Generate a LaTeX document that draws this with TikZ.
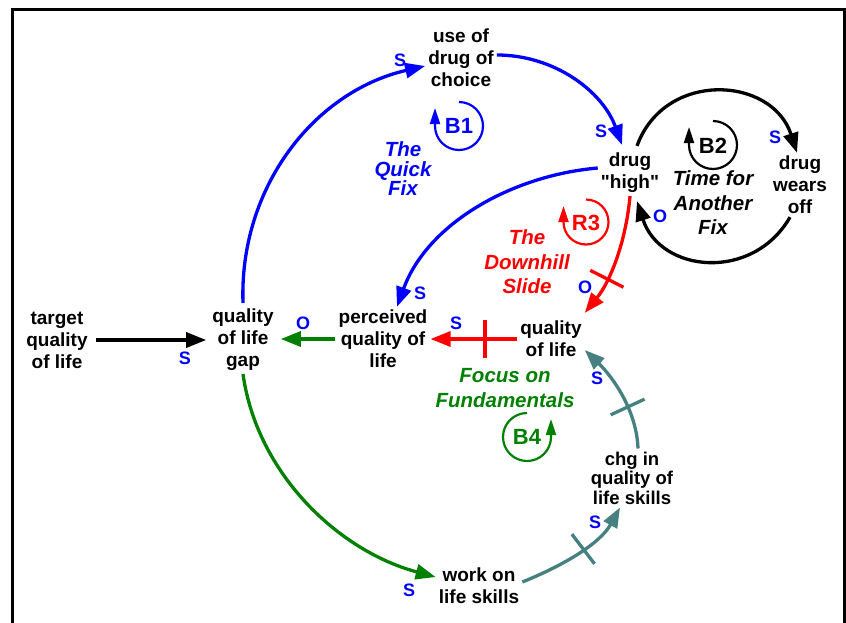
\documentclass[tikz,border=0pt]{standalone}
\usepackage{fontspec}
\setmainfont{Liberation Sans}[Ligatures=TeXOff]
\usetikzlibrary{arrows.meta}
\definecolor{cldblue}{RGB}{0,0,255}
\definecolor{cldred}{RGB}{255,0,0}
\definecolor{cldgreen}{RGB}{0,128,0}
\definecolor{cldteal}{RGB}{70,128,128}
\begin{document}
\begin{tikzpicture}[x=1pt,y=1pt,
  var/.style={font=\bfseries\fontsize{19}{22}\selectfont, align=center, inner sep=3pt, text=black},
  pol/.style={font=\bfseries\fontsize{18}{18}\selectfont, text=cldblue, inner sep=0pt},
  lnk/.style={line width=3.3pt, -{Triangle[length=20pt,width=15pt]}},
  looplbl/.style={font=\bfseries\fontsize{22}{22}\selectfont, inner sep=0pt},
  loopname/.style={font=\bfseries\itshape\fontsize{20.5}{24.5}\selectfont, align=center, inner sep=0pt},
  looparc/.style={line width=2.2pt, -{Triangle[length=16pt,width=10pt]}},
  hashmark/.style={sloped, inner sep=0pt, minimum height=34pt, minimum width=0pt},
  hashline/.style={line width=3.3pt}
]
\useasboundingbox (0,0) rectangle (846,-622);
% frame
\draw[line width=3pt] (12.5,-625) -- (12.5,-9.5) -- (844,-9.5) -- (844,-625);

% variables
\node[var] (use) at (461,-58) {use of\\drug of\\choice};
\node[var] (high) at (630,-173) {drug\\"high"};
\node[var] (wears) at (800,-185) {drug\\wears\\off};
\node[var] (target) at (57,-340) {target\\quality\\of life};
\node[var] (gap) at (243,-340) {quality\\of life\\gap};
\node[var] (perc) at (383,-339) {perceived\\quality of\\life};
\node[var] (qol) at (551,-339) {quality\\of life};
\node[var, font=\bfseries\fontsize{18.5}{19.5}\selectfont] (chg) at (632,-478) {chg in\\quality of\\life skills};
\node[var] (work) at (479,-586) {work on\\life skills};

% loop labels
\node[looplbl, text=cldblue] (b1) at (459,-126) {B1};
\draw[looparc, cldblue] (459,-102) arc[start angle=90, end angle=-180, radius=24] -- ++(0,18);
\node[looplbl] (b2) at (713,-146) {B2};
\draw[looparc] (713,-121) arc[start angle=90, end angle=-180, radius=24] -- ++(0,18);
\node[looplbl, text=cldred] (r3) at (586,-223) {R3};
\draw[looparc, cldred] (586,-199.5) arc[start angle=90, end angle=-180, radius=22.5] -- ++(0,16);
\node[looplbl, text=cldgreen] (b4) at (527,-437) {B4};
\draw[looparc, cldgreen] (527,-413) arc[start angle=90, end angle=360, radius=24] -- ++(0,18);

% loop names
\node[loopname, text=cldblue, font=\bfseries\itshape\fontsize{20.5}{19.5}\selectfont] (qf) at (403,-169) {The\\Quick\\Fix};
\node[loopname] (taf) at (713,-203) {Time for\\Another\\Fix};
\node[loopname, text=cldred] (dhs) at (527,-262) {The\\Downhill\\Slide};
\node[loopname, text=cldgreen] (fof) at (505,-388) {Focus on\\Fundamentals};

% links
\draw[lnk, cldblue] ([yshift=3pt]gap.north) to[out=92, in=193, looseness=0.98] ([yshift=-8pt]use.west);
\draw[lnk, cldblue] ([yshift=3pt]use.east) to[out=0, in=110, looseness=0.95] ([xshift=-8pt,yshift=5pt]high.north);
\draw[lnk, cldblue] ([yshift=5pt]high.west) to[out=185, in=70, looseness=0.92] ([xshift=14pt]perc.north);
\draw[lnk] ([xshift=7pt,yshift=4pt]high.north) to[out=70, in=108, looseness=1.29] ([xshift=-3pt]wears.north);
\draw[lnk] ([xshift=-10pt]wears.south) to[out=-120, in=-72, looseness=1.25] ([xshift=7pt,yshift=-5pt]high.south);
\draw[lnk, cldred] (high.south) to[out=265, in=51, looseness=0.87] node[hashmark, pos=0.68] (h1) {} ([yshift=5pt]qol.north east);
\draw[hashline, cldred] (h1.north) -- (h1.south);
\draw[lnk, cldred] (qol.west) -- node[hashmark, pos=0.37] (h2) {} (qol.west -| perc.east);
\draw[hashline, cldred] (h2.north) -- (h2.south);
\draw[lnk, cldgreen] (perc.west) -- ([xshift=4pt]perc.west -| gap.east);
\draw[lnk] ([xshift=5pt]target.east) -- ([xshift=-3pt]target.east -| gap.west);
\draw[lnk, cldgreen] (gap.south) to[out=-82, in=165, looseness=0.92] ([yshift=9pt]work.west);
\draw[lnk, cldteal] ([yshift=4pt]work.east) to[out=22, in=241, looseness=0.88] node[hashmark, pos=0.55] (h3) {} ([xshift=-12pt]chg.south);
\draw[hashline, cldteal] (h3.north) -- (h3.south);
\draw[lnk, cldteal] ([xshift=6pt]chg.north) to[out=92, in=316, looseness=0.88] node[hashmark, pos=0.38] (h4) {} ([yshift=-11pt]qol.east);
\draw[hashline, cldteal] (h4.north) -- (h4.south);

% polarities
\node[pol] (p1) at (400,-60) {S};
\node[pol] (p2) at (601,-131) {S};
\node[pol] (p3) at (420,-293) {S};
\node[pol] (p4) at (775,-137) {S};
\node[pol] (p5) at (660,-216) {O};
\node[pol] (p6) at (585,-287) {O};
\node[pol] (p7) at (456,-323) {S};
\node[pol] (p8) at (303,-323) {O};
\node[pol] (p9) at (185,-358) {S};
\node[pol] (p10) at (409,-590) {S};
\node[pol] (p11) at (595,-522) {S};
\node[pol] (p12) at (597,-378) {S};
\end{tikzpicture}
\end{document}
